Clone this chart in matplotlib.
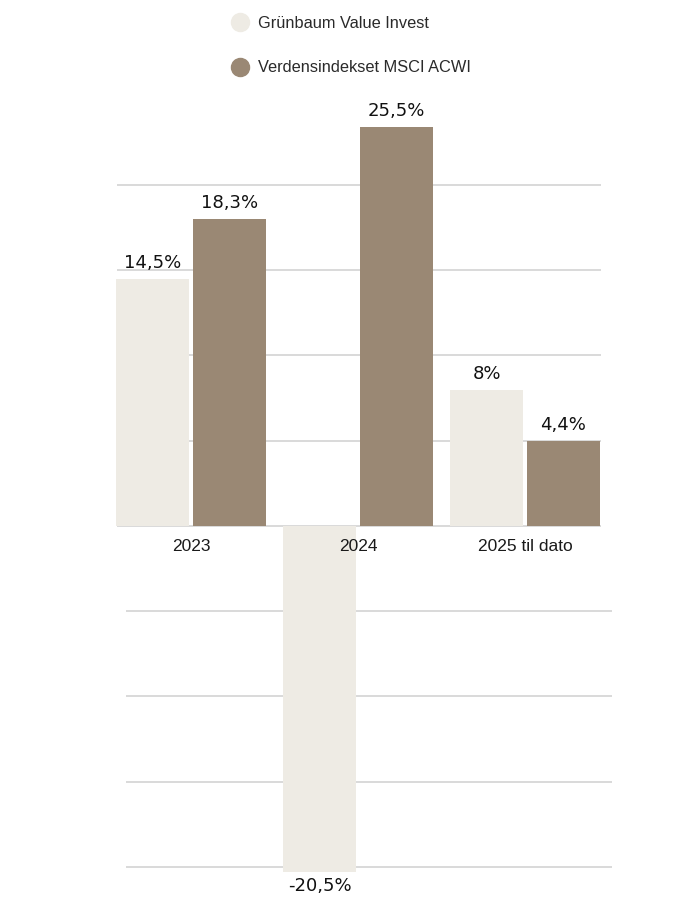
import numpy as np
import matplotlib
matplotlib.use('Agg')
import matplotlib.pyplot as plt
from matplotlib.lines import Line2D

# data
categories = ['2023', '2024', '2025 til dato']
series_names = ['Grünbaum Value Invest', 'Verdensindekset MSCI ACWI']
# bar heights as drawn in the picture
grunbaum = [14.5, -20.3, 8.0]
msci = [18.0, 23.4, 5.0]
# printed value labels
grunbaum_labels = ['14,5%', '-20,5%', '8%']
msci_labels = ['18,3%', '25,5%', '4,4%']
grid_vals = [5, 10, 15, 20]
neg_grid_vals = [-5, -10, -15, -20]

light = '#EEEBE4'
dark = '#9A8874'
grid_col = '#D9D9D9'

fig = plt.figure(figsize=(7, 9), dpi=100)
ax = fig.add_axes([116 / 700, 7.4 / 900, 484 / 700, 810 / 900])

x = np.arange(len(categories))
w = 0.437
off = 0.23

# gridlines (upper part spans the axes, lower part is shifted right a bit)
for g in grid_vals + [0]:
    ax.plot([-0.44, 2.45], [g, g], color=grid_col, lw=1.4, zorder=1, clip_on=False)
shift = 11 / 167
for g in neg_grid_vals:
    ax.plot([-0.45 + shift, 2.45 + shift], [g, g], color=grid_col, lw=1.4, zorder=1, clip_on=False)

b1 = ax.bar(x - off, grunbaum, width=w, color=light, zorder=2)
b2 = ax.bar(x + off, msci, width=w, color=dark, zorder=2)

lab_font = dict(fontsize=13, family='DejaVu Sans', color='#111111')
for xi, v, s in zip(x - off, grunbaum, grunbaum_labels):
    if v >= 0:
        ax.text(xi, v + 0.4, s, ha='center', va='bottom', **lab_font)
    else:
        ax.text(xi, v - 0.3, s, ha='center', va='top', **lab_font)
for xi, v, s in zip(x + off, msci, msci_labels):
    ax.text(xi, v + 0.4, s, ha='center', va='bottom', **lab_font)

for xi, c in zip(x, categories):
    ax.text(xi, -1.2, c, ha='center', va='center', fontsize=12.5,
            family='Liberation Sans', color='#1a1a1a', zorder=3)

ax.set_xlim(-0.45, 2.45)
ax.set_ylim(-21.5, 26)
ax.axis('off')

handles = [Line2D([], [], marker='o', ls='', markersize=13, color=light),
           Line2D([], [], marker='o', ls='', markersize=13, color=dark)]
fig.legend(handles, series_names, loc='upper left', bbox_to_anchor=(215 / 700, 1 - 1 / 900),
           frameon=False, labelspacing=1.8, handletextpad=0.55, handlelength=1.2,
           prop={'family': 'Liberation Sans', 'size': 11.8}, labelcolor='#2a2a2a')

fig.savefig('out.png', dpi=100)
